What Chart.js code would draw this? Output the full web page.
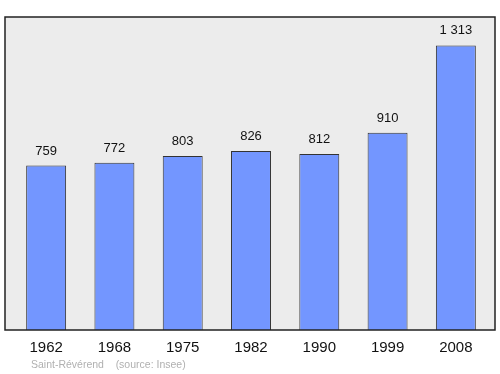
<!DOCTYPE html>
<html>
<head>
<meta charset="utf-8">
<script src="https://cdn.jsdelivr.net/npm/chart.js@4"></script>
<style>
  html, body { margin: 0; padding: 0; background: #fff; }
  #wrap { width: 500px; height: 374px; }
</style>
</head>
<body>
<div id="wrap"><canvas id="chart"></canvas></div>
<script>
const years = ['1962', '1968', '1975', '1982', '1990', '1999', '2008'];
const population = [759, 772, 803, 826, 812, 910, 1313];
const valueLabels = ['759', '772', '803', '826', '812', '910', '1 313'];
const sourceText = 'Saint-Révérend    (source: Insee)';

// grey panel with black frame, a bit wider than the bar area
const framePlugin = {
  id: 'frame',
  beforeDraw(chart) {
    const { ctx, chartArea: a } = chart;
    ctx.save();
    ctx.fillStyle = '#ececec';
    ctx.fillRect(a.left - 7, a.top, a.right - a.left + 12, a.bottom - a.top);
    ctx.restore();
  },
  afterDatasetsDraw(chart) {
    const { ctx, chartArea: a } = chart;
    ctx.save();
    ctx.strokeStyle = '#222';
    ctx.lineWidth = 1.5;
    ctx.strokeRect(a.left - 7, a.top, a.right - a.left + 12, a.bottom - a.top);

    // value labels above bars
    ctx.fillStyle = '#111';
    ctx.font = '13px "Liberation Sans", Arial, sans-serif';
    ctx.textAlign = 'center';
    ctx.textBaseline = 'bottom';
    chart.getDatasetMeta(0).data.forEach((bar, i) => {
      ctx.fillText(valueLabels[i], bar.x, bar.y - 8);
    });

    // source line
    ctx.fillStyle = '#b0b0b0';
    ctx.font = '10.5px "Liberation Sans", Arial, sans-serif';
    ctx.textAlign = 'left';
    ctx.textBaseline = 'middle';
    ctx.fillText(sourceText, 31, 365);
    ctx.restore();
  }
};

new Chart(document.getElementById('chart'), {
  type: 'bar',
  data: {
    labels: years,
    datasets: [{
      data: population,
      backgroundColor: '#7396ff',
      borderColor: '#333',
      borderWidth: 1,
      barPercentage: 0.585,
      categoryPercentage: 1
    }]
  },
  options: {
    responsive: true,
    maintainAspectRatio: false,
    animation: false,
    layout: { padding: { left: 12, right: 10, top: 17, bottom: 0 } },
    plugins: {
      legend: { display: false },
      tooltip: { enabled: false }
    },
    scales: {
      x: {
        grid: { display: false, drawTicks: false },
        border: { display: false },
        ticks: {
          color: '#111',
          padding: 9,
          font: { family: '"Liberation Sans", Arial, sans-serif', size: 15 }
        },
        afterFit(scale) { scale.height = 44; }
      },
      y: {
        display: false,
        min: 0,
        max: 1444
      }
    }
  },
  plugins: [framePlugin]
});
</script>
</body>
</html>
